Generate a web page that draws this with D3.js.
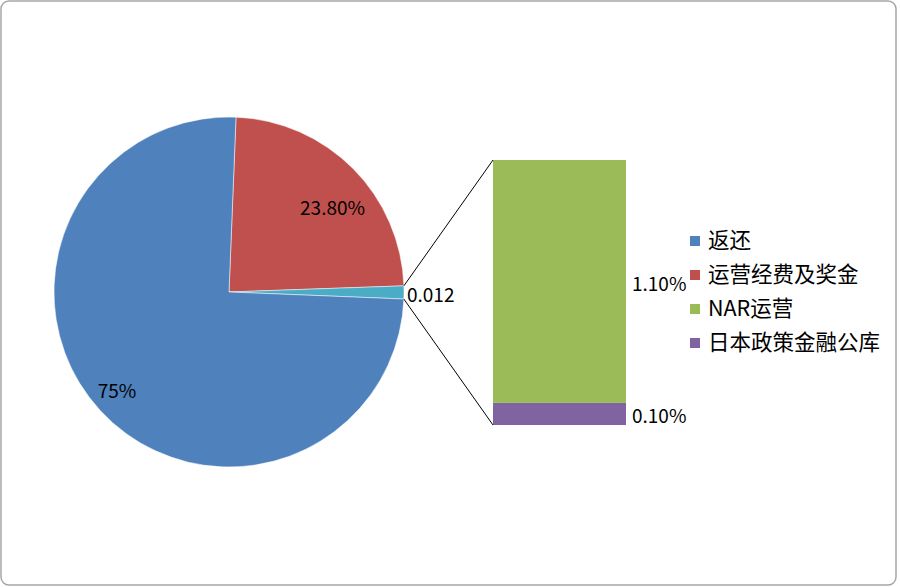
<!DOCTYPE html>
<html><head><meta charset="utf-8">
<script src="https://cdn.jsdelivr.net/npm/d3@7"></script>
<style>html,body{margin:0;padding:0;background:#fff;}svg{display:block;}</style>
</head><body>
<svg id="c" width="900" height="587"></svg>
<script>
// data
const pieCategories = ["运营经费及奖金", "其他", "返还"];
const pieValues = [23.8, 1.2, 75];
const pieLabels = ["23.80%", "0.012", "75%"];
const barCategories = ["日本政策金融公库", "NAR运营"];
const barValues = [0.1, 1.1];
const barLabels = ["0.10%", "1.10%"];
const legendCategories = ["返还", "运营经费及奖金", "NAR运营", "日本政策金融公库"];

const colors = {"返还":"#4F81BD","运营经费及奖金":"#C0504D","其他":"#4BACC6","NAR运营":"#9BBB59","日本政策金融公库":"#8064A2"};
const font = "'Noto Sans CJK SC','Noto Sans',sans-serif";

const svg = d3.select("#c");
svg.append("rect").attr("x",1).attr("y",1).attr("width",895).attr("height",584)
  .attr("rx",8).attr("fill","#fff").attr("stroke","#a6a6a6").attr("stroke-width",1.5);

const cx = 229, cy = 292, R = 175;
const start = 2.3 * Math.PI/180;
const pie = d3.pie().sort(null).value(d=>d).startAngle(start).endAngle(start + 2*Math.PI);
const arcs = pie(pieValues);
const arc = d3.arc().innerRadius(0).outerRadius(R);
const g = svg.append("g").attr("transform",`translate(${cx},${cy})`);
g.selectAll("path").data(arcs).join("path")
  .attr("d",arc).attr("fill",(d,i)=>colors[pieCategories[i]])
  .attr("stroke","#fff").attr("stroke-width",0.5);

// bar of pie
const bx0 = 493, bw = 133;
const y = d3.scaleLinear().domain([0, d3.sum(barValues)]).range([425,160]);
let acc = 0;
const stacks = barValues.map(v=>{const s={y0:acc,y1:acc+v}; acc+=v; return s;});
svg.selectAll("rect.bar").data(stacks).join("rect").attr("class","bar")
  .attr("x",bx0).attr("width",bw)
  .attr("y",d=>y(d.y1)).attr("height",d=>y(d.y0)-y(d.y1))
  .attr("fill",(d,i)=>colors[barCategories[i]]);

// connector lines
const other = arcs[1];
const pt = a => [cx + R*Math.sin(a), cy - R*Math.cos(a)];
const p1 = pt(other.startAngle), p2 = pt(other.endAngle);
svg.append("line").attr("x1",p1[0]).attr("y1",p1[1]).attr("x2",bx0).attr("y2",y(d3.sum(barValues)))
  .attr("stroke","#000").attr("stroke-width",1);
svg.append("line").attr("x1",p2[0]).attr("y1",p2[1]).attr("x2",bx0).attr("y2",y(0))
  .attr("stroke","#000").attr("stroke-width",1);

// pie labels
const lblText = (x,yv,t,anchor)=>svg.append("text").attr("x",x).attr("y",yv).text(t)
  .attr("font-family",font).attr("font-size",19).attr("fill","#000")
  .attr("text-anchor",anchor).attr("dominant-baseline","central");
// red
{const a = (arcs[0].startAngle+arcs[0].endAngle)/2 + 6*Math.PI/180; const r = R*0.76;
 lblText(cx + r*Math.sin(a), cy - r*Math.cos(a) - 2, pieLabels[0], "middle");}
// blue
{const a = (arcs[2].startAngle+arcs[2].endAngle)/2 + 1.5*Math.PI/180; const r = R*0.85;
 lblText(cx + r*Math.sin(a), cy - r*Math.cos(a), pieLabels[2], "middle");}
// other
{const a = (arcs[1].startAngle+arcs[1].endAngle)/2;
 lblText(cx + R*Math.sin(a) + 3, cy - R*Math.cos(a) + 1, pieLabels[1], "start");}
// bar labels
lblText(bx0 + bw + 6, (y(stacks[1].y0)+y(stacks[1].y1))/2 + 1, barLabels[1], "start");
lblText(bx0 + bw + 6, (y(stacks[0].y0)+y(stacks[0].y1))/2 + 1, barLabels[0], "start");

// legend
const lg = svg.append("g");
legendCategories.forEach((c,i)=>{
  const yy = 241 + i*34;
  lg.append("rect").attr("x",690).attr("y",yy-5).attr("width",10).attr("height",10).attr("fill",colors[c]);
  lg.append("text").attr("x",708).attr("y",yy-3).text(c)
    .attr("font-family",font).attr("font-size",21.5).attr("fill","#000")
    .attr("dominant-baseline","central");
});
</script>
</body></html>
